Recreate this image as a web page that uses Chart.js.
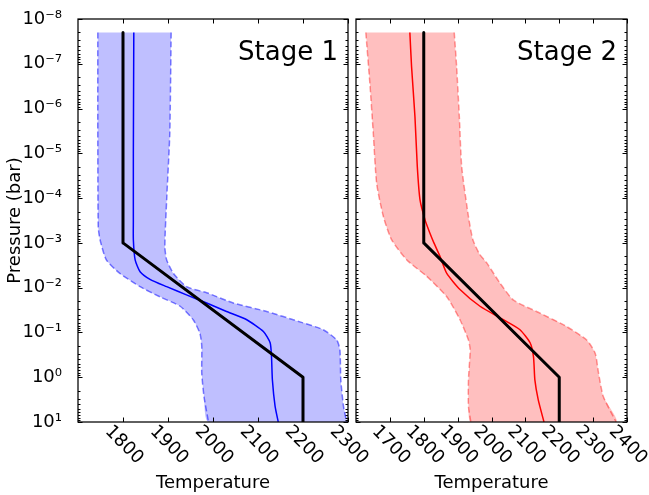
<!DOCTYPE html>
<html>
<head>
<meta charset="utf-8">
<script src="https://cdn.jsdelivr.net/npm/chart.js@4.4.1/dist/chart.umd.min.js"></script>
<style>
  html, body { margin: 0; padding: 0; background: #fff; }
  #wrap { position: relative; width: 649px; height: 495px; overflow: hidden; }
  canvas { position: absolute; top: 0; }
  #stage1 { left: 0; }
  #stage2 { left: 340px; }
</style>
</head>
<body>
<div id="wrap">
  <canvas id="stage1" width="400" height="495"></canvas>
  <canvas id="stage2" width="309" height="495"></canvas>
</div>
<script>
Chart.defaults.font.family = '"DejaVu Sans", sans-serif';
Chart.defaults.color = '#000';

// pressure axis
var yTickValues = [1e-8, 1e-7, 1e-6, 1e-5, 1e-4, 1e-3, 1e-2, 1e-1, 1e0, 1e1];
var yTickLabels = ['10⁻⁸', '10⁻⁷', '10⁻⁶', '10⁻⁵', '10⁻⁴', '10⁻³', '10⁻²', '10⁻¹', '10⁰', '10¹'];

// temperature ticks
var stage1XTicks = [1800, 1900, 2000, 2100, 2200, 2300];
var stage2XTicks = [1700, 1800, 1900, 2000, 2100, 2200, 2300, 2400];

// black profile (same in both panels)
var bestT = [1800, 1800, 2200, 2200];
var bestP = [2e-8, 1e-3, 1, 10];

// stage 1 median (blue)
var s1MedT = [1824, 1823, 1823, 1823, 1827, 1838, 1860, 1897, 1941, 1986, 2030, 2075, 2112, 2127, 2130, 2132, 2138, 2145];
var s1MedP = [2e-8, 1e-5, 3.2e-4, 8.5e-4, 2.4e-3, 4.4e-3, 6.5e-3, 9.5e-3, 1.45e-2, 2.2e-2, 3.4e-2, 5.2e-2, 9.5e-2, 0.17, 0.35, 1.15, 4.5, 10];

// stage 1 band edges
var s1LowT = [1744, 1744, 1745, 1749, 1763, 1793, 1838, 1882, 1927, 1956, 1971, 1975, 1975, 1980, 1990];
var s1LowP = [2e-8, 3.2e-6, 4.4e-4, 8.5e-4, 2.4e-3, 4.8e-3, 9.5e-3, 1.6e-2, 2.6e-2, 5.2e-2, 0.105, 0.2, 0.81, 2.7, 10];
var s1HighT = [1907, 1904, 1897, 1893, 1897, 1912, 1941, 1986, 2045, 2119, 2193, 2245, 2275, 2282, 2284, 2290, 2297];
var s1HighP = [2e-8, 3.5e-6, 1.1e-4, 1.2e-3, 2.4e-3, 4.8e-3, 9.5e-3, 1.3e-2, 2.2e-2, 3.4e-2, 5.8e-2, 8.7e-2, 0.148, 0.245, 1.15, 4.5, 10];

// stage 2 median (red)
var s2MedT = [1759, 1764, 1774, 1781, 1789, 1804, 1818, 1830, 1848, 1868, 1907, 1966, 2035, 2084, 2114, 2124, 2128, 2138, 2155];
var s2MedP = [2e-8, 1.15e-7, 1.5e-6, 2e-5, 1.1e-4, 3.1e-4, 6e-4, 1e-3, 2e-3, 4.8e-3, 1.1e-2, 2.6e-2, 5.2e-2, 8.7e-2, 0.17, 0.35, 1.15, 3.2, 10];

// stage 2 band edges
var s2LowT = [1629, 1641, 1651, 1661, 1681, 1705, 1750, 1809, 1868, 1907, 1932, 1937, 1932, 1932, 1939];
var s2LowP = [2e-8, 2.75e-7, 3.5e-6, 4.7e-5, 2.6e-4, 8.5e-4, 2.4e-3, 5.6e-3, 1.6e-2, 5.2e-2, 0.148, 0.245, 1.15, 4.5, 10];
var s2HighT = [1890, 1897, 1905, 1912, 1932, 1945, 1965, 1986, 2025, 2065, 2143, 2222, 2281, 2306, 2316, 2330, 2368];
var s2HighP = [2e-8, 1.15e-7, 1.5e-6, 2e-5, 2.6e-4, 8.5e-4, 1.8e-3, 2.8e-3, 7.9e-3, 1.9e-2, 3.7e-2, 7.4e-2, 0.148, 0.29, 0.81, 2.7, 10];

function points(ts, ps) {
    return ts.map(function (t, i) { return { x: t, y: ps[i] }; });
}

function band(lowT, lowP, highT, highP) {
    return points(lowT, lowP).concat(points(highT, highP).reverse());
}

// minor tick positions on the log axis
var yMinor = [];
for (var k = -8; k < 1; k++) {
    for (var m = 2; m < 10; m++) {
        yMinor.push(m * Math.pow(10, k));
    }
}

// frame, inward ticks, rotated x labels and the panel title
var framePlugin = {
    id: 'frame',
    afterDraw: function (chart, args, opts) {
        var ctx = chart.ctx;
        var a = chart.chartArea;
        var xs = chart.scales.x;
        var ys = chart.scales.y;

        ctx.save();
        ctx.strokeStyle = '#000';
        ctx.lineWidth = 1;
        ctx.beginPath();
        opts.xTicks.forEach(function (v) {
            var px = Math.round(xs.getPixelForValue(v)) + 0.5;
            ctx.moveTo(px, a.bottom); ctx.lineTo(px, a.bottom - 4.5);
            ctx.moveTo(px, a.top); ctx.lineTo(px, a.top + 4.5);
        });
        yTickValues.forEach(function (v) {
            var py = Math.round(ys.getPixelForValue(v)) + 0.5;
            ctx.moveTo(a.left, py); ctx.lineTo(a.left + 4.5, py);
            ctx.moveTo(a.right, py); ctx.lineTo(a.right - 4.5, py);
        });
        yMinor.forEach(function (v) {
            var py = Math.round(ys.getPixelForValue(v)) + 0.5;
            ctx.moveTo(a.left, py); ctx.lineTo(a.left + 2.5, py);
            ctx.moveTo(a.right, py); ctx.lineTo(a.right - 2.5, py);
        });
        ctx.stroke();

        ctx.lineWidth = 1.25;
        ctx.strokeRect(a.left, a.top, a.right - a.left, a.bottom - a.top);

        ctx.fillStyle = '#000';
        ctx.font = '18px "DejaVu Sans"';
        ctx.textAlign = 'center';
        ctx.textBaseline = 'middle';
        opts.xTicks.forEach(function (v) {
            var px = xs.getPixelForValue(v);
            ctx.save();
            ctx.translate(px + 1, a.bottom + 23);
            ctx.rotate(Math.PI / 4);
            ctx.fillText(String(v), 0, 0);
            ctx.restore();
        });

        ctx.font = '26px "DejaVu Sans"';
        ctx.textAlign = 'right';
        ctx.textBaseline = 'alphabetic';
        ctx.fillText(opts.title, a.right - 10, a.top + 41);
        ctx.restore();
    }
};

function lineSet(data, color, width, dash, tension) {
    return {
        data: data,
        showLine: true,
        pointRadius: 0,
        borderColor: color,
        borderWidth: width,
        borderDash: dash || [],
        borderJoinStyle: 'round',
        tension: tension,
        fill: false
    };
}

function makePanel(id, p) {
    var datasets = [
        lineSet(points(bestT, bestP), '#000000', 3, null, 0),
        lineSet(points(p.medT, p.medP), p.color, 1.5, null, 0.2),
        lineSet(points(p.lowT, p.lowP), p.edge, 1.5, [6, 3], 0.2),
        lineSet(points(p.highT, p.highP), p.edge, 1.5, [6, 3], 0.2),
        {
            data: band(p.lowT, p.lowP, p.highT, p.highP),
            showLine: true,
            pointRadius: 0,
            borderColor: 'transparent',
            borderWidth: 0,
            backgroundColor: p.fill,
            tension: 0.2,
            fill: 'shape'
        }
    ];

    return new Chart(document.getElementById(id), {
        type: 'scatter',
        data: { datasets: datasets },
        plugins: [framePlugin],
        options: {
            responsive: false,
            animation: false,
            devicePixelRatio: 1,
            layout: { padding: { top: 19, right: p.padRight, left: 0, bottom: 0 } },
            plugins: {
                legend: { display: false },
                tooltip: { enabled: false },
                frame: { xTicks: p.xTicks, title: p.title }
            },
            scales: {
                x: {
                    type: 'linear',
                    min: p.xMin,
                    max: p.xMax,
                    grid: { display: false },
                    border: { display: false },
                    ticks: { display: false },
                    title: {
                        display: true,
                        text: 'Temperature',
                        font: { size: 18 },
                        padding: { top: 0, bottom: 1 }
                    },
                    afterFit: function (s) { s.height = 73; }
                },
                y: {
                    type: 'logarithmic',
                    reverse: true,
                    min: 1e-8,
                    max: 10,
                    grid: { display: false },
                    border: { display: false },
                    ticks: {
                        display: p.yLabels,
                        autoSkip: false,
                        padding: 8,
                        font: { size: 18 },
                        callback: function (value, index) { return yTickLabels[index]; }
                    },
                    afterBuildTicks: function (s) {
                        s.ticks = yTickValues.map(function (v) { return { value: v }; });
                    },
                    title: {
                        display: p.yLabels,
                        text: 'Pressure (bar)',
                        font: { size: 18 },
                        padding: { top: 5, bottom: 0 }
                    },
                    afterFit: function (s) { s.width = p.yWidth; }
                }
            }
        }
    });
}

makePanel('stage1', {
    title: 'Stage 1',
    xMin: 1700, xMax: 2300, xTicks: stage1XTicks,
    medT: s1MedT, medP: s1MedP,
    lowT: s1LowT, lowP: s1LowP, highT: s1HighT, highP: s1HighP,
    color: '#0000ff', edge: 'rgba(0,0,255,0.5)', fill: 'rgba(0,0,255,0.25)',
    yLabels: true, yWidth: 78, padRight: 52
});

makePanel('stage2', {
    title: 'Stage 2',
    xMin: 1600, xMax: 2400, xTicks: stage2XTicks,
    medT: s2MedT, medP: s2MedP,
    lowT: s2LowT, lowP: s2LowP, highT: s2HighT, highP: s2HighP,
    color: '#ff0000', edge: 'rgba(255,0,0,0.4)', fill: 'rgba(255,0,0,0.25)',
    yLabels: false, yWidth: 16, padRight: 22
});
</script>
</body>
</html>
